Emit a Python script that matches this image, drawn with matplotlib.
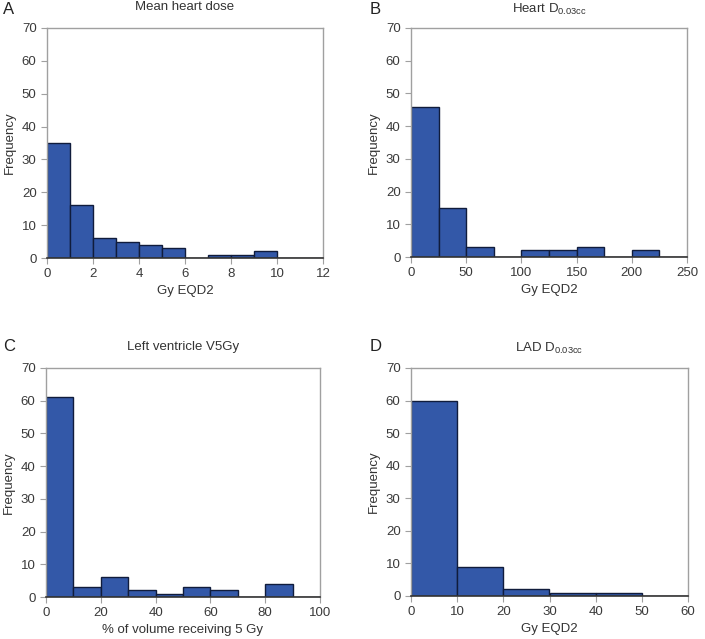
import numpy as np
import matplotlib
matplotlib.use("Agg")
import matplotlib.pyplot as plt

plt.rcParams['font.family'] = ['Liberation Sans', 'DejaVu Sans']
plt.rcParams['mathtext.fontset'] = 'custom'
plt.rcParams['mathtext.rm'] = 'Liberation Sans'

# histogram counts per bin
mhd_edges = [0, 1, 2, 3, 4, 5, 6, 7, 8, 9, 10, 11, 12]
mhd_counts = [35, 16, 6, 5, 4, 3, 0, 1, 1, 2, 0, 0]

heart_edges = [0, 25, 50, 75, 100, 125, 150, 175, 200, 225, 250]
heart_counts = [46, 15, 3, 0, 2, 2, 3, 0, 2, 0]

lv_edges = [0, 10, 20, 30, 40, 50, 60, 70, 80, 90, 100]
lv_counts = [61, 3, 6, 2, 1, 3, 2, 0, 4, 0]

lad_edges = [0, 10, 20, 30, 40, 50, 60]
lad_counts = [60, 9, 2, 1, 1, 0]

panels = [
    ("A", "Mean heart dose", "Gy EQD2", mhd_edges, mhd_counts, np.arange(0, 13, 2)),
    ("B", r"Heart D$_{\mathregular{0.03cc}}$", "Gy EQD2", heart_edges, heart_counts, np.arange(0, 251, 50)),
    ("C", "Left ventricle V5Gy", "% of volume receiving 5 Gy", lv_edges, lv_counts, np.arange(0, 101, 20)),
    ("D", r"LAD D$_{\mathregular{0.03cc}}$", "Gy EQD2", lad_edges, lad_counts, np.arange(0, 61, 10)),
]

W, H = 705, 639
boxes = [(47, 28, 323, 258), (411, 28, 687, 257), (46, 368, 320, 597), (411, 368, 688, 596)]
letter_pos = [(3, 9), (370, 9), (3, 347), (370, 347)]
title_y = [7, 9, 347, 348]

fig = plt.figure(figsize=(W / 100, H / 100), dpi=100)

for (letter, title, xlabel, edges, counts, xt), (x0, y0, x1, y1), (lx, ly), ty in zip(panels, boxes, letter_pos, title_y):
    ax = fig.add_axes([x0 / W, 1 - y1 / H, (x1 - x0) / W, (y1 - y0) / H])
    edges = np.array(edges)
    ax.bar(edges[:-1], counts, width=np.diff(edges), align='edge',
           color='#3358a8', edgecolor='#101c3c', linewidth=1.0)
    ax.set_xlim(edges[0], edges[-1])
    ax.set_ylim(0, 70)
    ax.set_yticks(np.arange(0, 71, 10))
    ax.set_xticks(xt)
    for s in ['top', 'right', 'left']:
        ax.spines[s].set_color('#a0a0a0')
        ax.spines[s].set_linewidth(1.0)
    ax.spines['bottom'].set_color('#333333')
    ax.spines['bottom'].set_linewidth(1.2)
    ax.tick_params(axis='both', colors='#a0a0a0', labelcolor='#3a3a3a',
                   labelsize=9.5, length=4, width=0.8, direction='out')
    ax.set_xlabel(xlabel, fontsize=9.5, color='#333333', labelpad=3)
    ax.set_ylabel("Frequency", fontsize=9.5, color='#333333', labelpad=4)
    fig.text((x0 + x1) / 2 / W, 1 - ty / H, title, fontsize=9.5, color='#333333',
             ha='center', va='center')
    fig.text(lx / W, 1 - ly / H, letter, fontsize=12, color='#222222', va='center', ha='left')

fig.savefig("out.png", dpi=100)
